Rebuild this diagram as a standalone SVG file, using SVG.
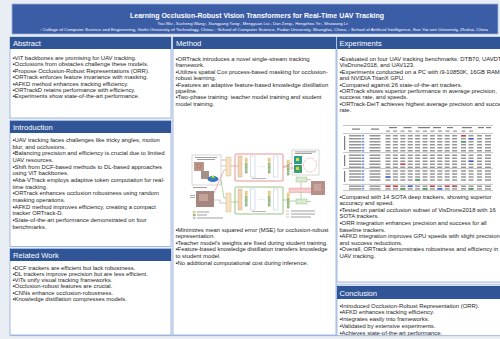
<svg xmlns="http://www.w3.org/2000/svg" width="500" height="339" viewBox="0 0 500 339">
<defs>
<style>
.t{font-family:'Liberation Sans','DejaVu Sans',sans-serif;font-size:5.9px;fill:#1e1e1e}
.h{font-family:'Liberation Sans','DejaVu Sans',sans-serif;font-size:7.6px;fill:#ffffff}
.w{font-family:'Liberation Sans','DejaVu Sans',sans-serif;fill:#ffffff}
.panel{fill:#ffffff;stroke:#8eaadb;stroke-width:0.8}
.bar{fill:#2f5597}
.tk{stroke:#888;stroke-width:0.2}
.ln{fill:none;stroke-width:0.5}
</style>
<g id="trow" fill="#7d7d7d">
<rect x="349" y="0" width="12" height="1.2"/>
<rect x="361.6" y="0" width="2.6" height="1.2" fill="#4a72c4"/>
<rect x="369.5" y="0" width="11" height="1.2"/>
<rect x="385.5" y="0" width="5" height="1.2"/>
<rect x="392.9" y="0" width="5" height="1.2"/>
<rect x="400.3" y="0" width="5" height="1.2"/>
<rect x="407.7" y="0" width="5" height="1.2"/>
<rect x="415.1" y="0" width="5" height="1.2"/>
<rect x="422.5" y="0" width="5" height="1.2"/>
<rect x="429.9" y="0" width="5" height="1.2"/>
<rect x="437.3" y="0" width="5" height="1.2"/>
<rect x="444.7" y="0" width="5" height="1.2"/>
<rect x="452.1" y="0" width="5" height="1.2"/>
<rect x="461" y="0" width="5" height="1.2"/>
<rect x="468.5" y="0" width="5" height="1.2"/>
<rect x="477" y="0" width="5" height="1.2"/>
<rect x="485" y="0" width="6" height="1.2"/>
</g>
<g id="tokcol">
<rect x="0" y="0" width="2.4" height="2.2" fill="#ffd966" class="tk"/>
<rect x="0" y="2.6" width="2.4" height="2.2" fill="#ffd966" class="tk"/>
<rect x="0" y="5.2" width="2.4" height="2.2" fill="#93c47d" class="tk"/>
<rect x="0" y="7.8" width="2.4" height="2.2" fill="#93c47d" class="tk"/>
<rect x="0" y="10.4" width="2.4" height="2.2" fill="#93c47d" class="tk"/>
<rect x="0" y="13" width="2.4" height="2.2" fill="#93c47d" class="tk"/>
</g>
<g id="branch">
<rect x="238" y="2" width="4" height="21" fill="#f1d3b3" stroke="#b08a66" stroke-width="0.3"/>
<use href="#tokcol" x="245" y="4"/>
<rect x="250.5" y="2" width="4.5" height="21" fill="#ffffff" stroke="#8fa3c9" stroke-width="0.35"/>
<circle cx="259" cy="12.5" r="0.35" fill="#555"/>
<circle cx="261.5" cy="12.5" r="0.35" fill="#555"/>
<circle cx="264" cy="12.5" r="0.35" fill="#555"/>
<use href="#tokcol" x="268" y="4"/>
<rect x="273.5" y="2" width="4.5" height="21" fill="#ffffff" stroke="#8fa3c9" stroke-width="0.35"/>
<rect x="252" y="24" width="14" height="0.7" fill="#999"/>
</g>
</defs>

<rect x="0" y="0" width="500" height="339" fill="#e9edf4"/>

<g id="header">
<rect x="12" y="4" width="486" height="30" fill="#3a5da5" stroke="#9db4df" stroke-width="0.8"/>
<text class="w" x="257" y="17.5" text-anchor="middle" font-size="7" font-weight="bold" textLength="254" lengthAdjust="spacingAndGlyphs">Learning Occlusion-Robust Vision Transformers for Real-Time UAV Tracking</text>
<text class="w" x="253" y="25.2" text-anchor="middle" font-size="3.6" textLength="191" lengthAdjust="spacingAndGlyphs">You Wu¹, Xucheng Wang², Xiangyang Yang¹, Mengyuan Liu¹, Dan Zeng³, Hengzhou Ye¹, Shuiwang Li¹</text>
<text class="w" x="264" y="30.6" text-anchor="middle" font-size="3.2" textLength="448" lengthAdjust="spacingAndGlyphs">¹ College of Computer Science and Engineering, Guilin University of Technology, China; ² School of Computer Science, Fudan University, Shanghai, China; ³ School of Artificial Intelligence, Sun Yat-sen University, Zhuhai, China</text>
</g>

<g id="abstract">
<rect class="panel" x="10" y="37" width="161" height="81"/>
<rect class="bar" x="10" y="37" width="161" height="12"/>
<text class="h" x="13" y="46.3">Abstract</text>
<text class="t">
<tspan x="12.5" y="60">▪ViT backbones are promising for UAV tracking.</tspan>
<tspan x="12.5" y="66.4">▪Occlusions from obstacles challenge these models.</tspan>
<tspan x="12.5" y="72.8">▪Propose Occlusion-Robust Representations (ORR).</tspan>
<tspan x="12.5" y="79.2">▪ORTrack enforces feature invariance with masking.</tspan>
<tspan x="12.5" y="85.6">▪AFKD method enhances tracking efficiency.</tspan>
<tspan x="12.5" y="92">▪ORTrackD retains performance with efficiency.</tspan>
<tspan x="12.5" y="98.4">▪Experiments show state-of-the-art performance.</tspan>
</text>
</g>

<g id="introduction">
<rect class="panel" x="10" y="120.5" width="161" height="126"/>
<rect class="bar" x="10" y="121" width="161" height="12"/>
<text class="h" x="13" y="130.3">Introduction</text>
<text class="t">
<tspan x="12.5" y="142">▪UAV tracking faces challenges like tricky angles, motion</tspan>
<tspan x="12.5" y="148.7">blur, and occlusions.</tspan>
<tspan x="12.5" y="155.3">▪Balancing precision and efficiency is crucial due to limited</tspan>
<tspan x="12.5" y="162">UAV resources.</tspan>
<tspan x="12.5" y="168.7">▪Shift from DCF-based methods to DL-based approaches</tspan>
<tspan x="12.5" y="175.3">using ViT backbones.</tspan>
<tspan x="12.5" y="182">▪Aba-VTrack employs adaptive token computation for real-</tspan>
<tspan x="12.5" y="188.7">time tracking.</tspan>
<tspan x="12.5" y="195.3">▪ORTrack enhances occlusion robustness using random</tspan>
<tspan x="12.5" y="202">masking operations.</tspan>
<tspan x="12.5" y="208.7">▪AFKD method improves efficiency, creating a compact</tspan>
<tspan x="12.5" y="215.3">tracker ORTrack-D.</tspan>
<tspan x="12.5" y="222">▪State-of-the-art performance demonstrated on four</tspan>
<tspan x="12.5" y="228.7">benchmarks.</tspan>
</text>
</g>

<g id="related-work">
<rect class="panel" x="10" y="248.5" width="161" height="86.5"/>
<rect class="bar" x="10" y="249" width="161" height="12"/>
<text class="h" x="13" y="258.3">Related Work</text>
<text class="t">
<tspan x="12.5" y="269.5">▪DCF trackers are efficient but lack robustness.</tspan>
<tspan x="12.5" y="275.8">▪DL trackers improve precision but are less efficient.</tspan>
<tspan x="12.5" y="282.1">▪ViTs unify visual tracking frameworks.</tspan>
<tspan x="12.5" y="288.4">▪Occlusion-robust features are crucial.</tspan>
<tspan x="12.5" y="294.7">▪CNNs enhance occlusion-robustness.</tspan>
<tspan x="12.5" y="301">▪Knowledge distillation compresses models.</tspan>
</text>
</g>

<g id="method">
<rect class="panel" x="173" y="37" width="163" height="298"/>
<rect class="bar" x="173" y="37" width="163" height="12"/>
<text class="h" x="176" y="46.3">Method</text>
<text class="t">
<tspan x="175.5" y="61">▪ORTrack introduces a novel single-stream tracking</tspan>
<tspan x="175.5" y="67.4">framework.</tspan>
<tspan x="175.5" y="73.8">▪Utilizes spatial Cox process-based masking for occlusion-</tspan>
<tspan x="175.5" y="80.2">robust learning.</tspan>
<tspan x="175.5" y="86.6">▪Features an adaptive feature-based knowledge distillation</tspan>
<tspan x="175.5" y="93">pipeline.</tspan>
<tspan x="175.5" y="99.4">▪Two-phase training: teacher model training and student</tspan>
<tspan x="175.5" y="105.8">model training.</tspan>
<tspan x="175.5" y="231.5">▪Minimizes mean squared error (MSE) for occlusion-robust</tspan>
<tspan x="175.5" y="238.1">representation.</tspan>
<tspan x="175.5" y="244.7">▪Teacher model's weights are fixed during student training.</tspan>
<tspan x="175.5" y="251.3">▪Feature-based knowledge distillation transfers knowledge</tspan>
<tspan x="175.5" y="257.9">to student model.</tspan>
<tspan x="175.5" y="264.5">▪No additional computational cost during inference.</tspan>
</text>
</g>

<g id="method-figure">
<rect x="192" y="155" width="29" height="30" fill="#ffffff" stroke="#9a9a9a" stroke-width="0.4"/>
<rect x="195" y="157" width="22" height="0.8" fill="#888"/>
<rect x="197" y="159" width="18" height="0.8" fill="#888"/>
<rect x="194" y="162" width="10" height="9" fill="#b89a8c"/>
<rect x="197" y="164" width="4" height="4" fill="none" stroke="#d03030" stroke-width="0.3"/>
<rect x="201" y="171" width="8" height="8" fill="#a58f86"/>
<ellipse cx="213" cy="179" rx="5.5" ry="3" fill="#3d6fc9"/>
<ellipse cx="213" cy="177.5" rx="3" ry="1.8" fill="#33a58a"/>
<ellipse cx="213" cy="176.5" rx="1.3" ry="1" fill="#f2d33b"/>
<rect x="193" y="187" width="14" height="0.8" fill="#888"/>
<rect x="190" y="195" width="5" height="0.7" fill="#888"/>
<rect x="190" y="197" width="5" height="0.7" fill="#888"/>
<rect x="196" y="191" width="18" height="16" fill="#a88680"/>
<rect x="199" y="194" width="9" height="7" fill="#c4a39b"/>
<rect x="226" y="157" width="5" height="19" fill="#f6e2c0" stroke="#b49a6c" stroke-width="0.3"/>
<rect x="226" y="193" width="5" height="19" fill="#f6e2c0" stroke="#b49a6c" stroke-width="0.3"/>
<rect x="235" y="154" width="48" height="27" fill="#ffffff" stroke="#e06666" stroke-width="0.7" rx="1"/>
<rect x="235" y="187" width="48" height="27" fill="#ffffff" stroke="#6aa84f" stroke-width="0.7" rx="1"/>
<use href="#branch" y="154"/>
<use href="#branch" y="187"/>
<use href="#tokcol" x="287" y="160"/>
<use href="#tokcol" x="287" y="193"/>
<rect x="292" y="150" width="27" height="25" fill="#ffffff" stroke="#9a9a9a" stroke-width="0.4"/>
<rect x="295" y="151.5" width="21" height="0.8" fill="#888"/>
<rect x="295" y="153.2" width="17" height="0.8" fill="#888"/>
<rect x="294" y="156" width="8" height="8" fill="#2a9d8f"/>
<rect x="294" y="165" width="8" height="8" fill="#3f9f6f"/>
<rect x="296" y="158" width="3" height="3" fill="#e8d84a"/>
<rect x="296" y="167" width="3" height="3" fill="#c7d84a"/>
<ellipse cx="310" cy="165" rx="6.5" ry="7" fill="none" stroke="#d03030" stroke-width="0.4" stroke-dasharray="0.8 0.6"/>
<rect x="296" y="177" width="11" height="5" fill="#d9ead3" stroke="#6aa84f" stroke-width="0.3"/>
<rect x="296" y="199" width="11" height="5" fill="#d9ead3" stroke="#6aa84f" stroke-width="0.3"/>
<rect x="289" y="188" width="25" height="4.5" fill="#f4cccc" stroke="#e06666" stroke-width="0.3"/>
<rect x="311" y="181" width="14" height="14" fill="#b58f88"/>
<rect x="314" y="184" width="7" height="7" fill="#c9a49c"/>
<rect x="193" y="211" width="2.4" height="2" fill="#ffd966" class="tk"/>
<rect x="193" y="214" width="2.4" height="2" fill="#93c47d" class="tk"/>
<rect x="193" y="217" width="2.4" height="2" fill="#d9d2e9" class="tk"/>
<rect x="197" y="211.6" width="12" height="0.8" fill="#888"/>
<rect x="197" y="214.6" width="10" height="0.8" fill="#888"/>
<rect x="197" y="217.6" width="26" height="0.8" fill="#888"/>
<rect x="291" y="210.6" width="24" height="0.8" fill="#888"/>
<rect x="291" y="213.6" width="24" height="0.8" fill="#888"/>
<rect x="291" y="216.6" width="20" height="0.8" fill="#888"/>
</g>

<g id="connectors">
<path class="ln" stroke="#999" d="M221 166 H224 V166 H226 M214 200 H220 V203 H226"/>
<path class="ln" stroke="#e06666" d="M221 160 H226 M231 166 H238 M214 193 L224 170 H226"/>
<path class="ln" stroke="#6aa84f" d="M231 202 H238 M221 180 L224 198 H226"/>
<path class="ln" stroke="#e06666" d="M283 167 H287 M289.5 168 H294 M283 167 L292 163 M307 179.5 H311 M301 182 V188"/>
<path class="ln" stroke="#6aa84f" d="M283 200 H287 M289.5 201 H296 M301 199 V192.5 M307 201.5 H311"/>
<path class="ln" stroke="#e06666" d="M286 211 H289"/>
<path class="ln" stroke="#6aa84f" d="M286 214 H289"/>
<path class="ln" stroke="#999" d="M286 217 H289"/>
</g>

<g id="experiments">
<rect class="panel" x="337" y="37" width="165" height="245"/>
<rect class="bar" x="337" y="37" width="165" height="12"/>
<text class="h" x="339.5" y="46.3">Experiments</text>
<text class="t">
<tspan x="339.5" y="61">▪Evaluated on four UAV tracking benchmarks: DTB70, UAVDT,</tspan>
<tspan x="339.5" y="67.4">VisDrone2018, and UAV123.</tspan>
<tspan x="339.5" y="73.8">▪Experiments conducted on a PC with i9-10850K, 16GB RAM,</tspan>
<tspan x="339.5" y="80.2">and NVIDIA TitanX GPU.</tspan>
<tspan x="339.5" y="86.6">▪Compared against 26 state-of-the-art trackers.</tspan>
<tspan x="339.5" y="93">▪ORTrack shows superior performance in average precision,</tspan>
<tspan x="339.5" y="99.4">success rate, and speeds.</tspan>
<tspan x="339.5" y="105.8">▪ORTrack-DeiT achieves highest average precision and success</tspan>
<tspan x="339.5" y="112.2">rate.</tspan>
<tspan x="339.5" y="198.6">▪Compared with 14 SOTA deep trackers, showing superior</tspan>
<tspan x="339.5" y="205.2">accuracy and speed.</tspan>
<tspan x="339.5" y="211.8">▪Tested on partial occlusion subset of VisDrone2018 with 16</tspan>
<tspan x="339.5" y="218.4">SOTA trackers.</tspan>
<tspan x="339.5" y="225">▪ORR integration enhances precision and success for all</tspan>
<tspan x="339.5" y="231.6">baseline trackers.</tspan>
<tspan x="339.5" y="238.2">▪AFKD integration improves GPU speeds with slight precision</tspan>
<tspan x="339.5" y="244.8">and success reductions.</tspan>
<tspan x="339.5" y="251.4">▪Overall, ORTrack demonstrates robustness and efficiency in</tspan>
<tspan x="339.5" y="258">UAV tracking.</tspan>
</text>
</g>

<g id="results-table">
<g stroke="#555" stroke-width="0.35">
<line x1="343" y1="125.5" x2="493" y2="125.5"/>
<line x1="343" y1="133.6" x2="493" y2="133.6"/>
<line x1="343" y1="152.6" x2="493" y2="152.6"/>
<line x1="343" y1="168.6" x2="493" y2="168.6"/>
<line x1="343" y1="184.4" x2="493" y2="184.4"/>
<line x1="343" y1="190.6" x2="493" y2="190.6"/>
</g>
<g fill="#7d7d7d">
<rect x="352" y="128.5" width="8" height="1.2"/>
<rect x="371" y="128.5" width="8" height="1.2"/>
<rect x="389" y="127" width="8" height="1.2"/>
<rect x="403.5" y="127" width="8" height="1.2"/>
<rect x="418" y="127" width="12" height="1.2"/>
<rect x="433" y="127" width="8" height="1.2"/>
<rect x="447" y="127" width="6" height="1.2"/>
<rect x="462" y="127" width="10" height="1.2"/>
<rect x="478" y="127" width="6" height="1.2"/>
<rect x="486" y="127" width="5" height="1.2"/>
<rect x="386" y="130.6" width="4" height="1"/><rect x="393" y="130.6" width="4" height="1"/>
<rect x="400.5" y="130.6" width="4" height="1"/><rect x="408" y="130.6" width="4" height="1"/>
<rect x="415.5" y="130.6" width="4" height="1"/><rect x="423" y="130.6" width="4" height="1"/>
<rect x="430.5" y="130.6" width="4" height="1"/><rect x="438" y="130.6" width="4" height="1"/>
<rect x="445.5" y="130.6" width="4" height="1"/><rect x="453" y="130.6" width="4" height="1"/>
<rect x="461.5" y="130.6" width="4" height="1"/><rect x="469" y="130.6" width="4" height="1"/>
<rect x="344" y="136" width="1.2" height="14"/>
<rect x="344" y="155" width="1.2" height="11"/>
<rect x="344" y="171" width="1.2" height="11"/>
</g>
<use href="#trow" y="135.2"/>
<use href="#trow" y="138.2"/>
<use href="#trow" y="141.2"/>
<use href="#trow" y="144.2"/>
<use href="#trow" y="147.2"/>
<use href="#trow" y="150.2"/>
<use href="#trow" y="154.6"/>
<use href="#trow" y="157.6"/>
<use href="#trow" y="160.6"/>
<use href="#trow" y="163.6"/>
<use href="#trow" y="166.6"/>
<use href="#trow" y="170.4"/>
<use href="#trow" y="173.4"/>
<use href="#trow" y="176.4"/>
<use href="#trow" y="179.4"/>
<use href="#trow" y="182.4" opacity="0"/>
<use href="#trow" y="185.6"/>
<use href="#trow" y="188.3"/>
<g>
<rect x="461" y="135.2" width="5" height="1.2" fill="#e03030"/>
<rect x="468.5" y="138.2" width="5" height="1.2" fill="#3050e0"/>
<rect x="461" y="141.2" width="5" height="1.2" fill="#2a9d3a"/>
<rect x="400.3" y="163.6" width="5" height="1.2" fill="#e03030"/>
<rect x="468.5" y="160.6" width="5" height="1.2" fill="#3050e0"/>
<rect x="385.5" y="176.4" width="5" height="1.2" fill="#3050e0"/>
<rect x="415.1" y="179.4" width="5" height="1.2" fill="#2a9d3a"/>
<rect x="385.5" y="185.6" width="5" height="1.2" fill="#e03030"/>
<rect x="392.9" y="185.6" width="5" height="1.2" fill="#e03030"/>
<rect x="407.7" y="185.6" width="5" height="1.2" fill="#3050e0"/>
<rect x="429.9" y="185.6" width="5" height="1.2" fill="#e03030"/>
<rect x="444.7" y="185.6" width="5" height="1.2" fill="#e03030"/>
<rect x="452.1" y="185.6" width="5" height="1.2" fill="#e03030"/>
<rect x="400.3" y="188.3" width="5" height="1.2" fill="#2a9d3a"/>
<rect x="422.5" y="188.3" width="5" height="1.2" fill="#2a9d3a"/>
<rect x="437.3" y="188.3" width="5" height="1.2" fill="#3050e0"/>
<rect x="468.5" y="188.3" width="5" height="1.2" fill="#2a9d3a"/>
</g>
</g>

<g id="conclusion">
<rect class="panel" x="337" y="285" width="165" height="56"/>
<rect class="bar" x="337" y="286" width="165" height="13"/>
<text class="h" x="339.5" y="295.6">Conclusion</text>
<text class="t">
<tspan x="339.5" y="307.7">▪Introduced Occlusion-Robust Representation (ORR).</tspan>
<tspan x="339.5" y="314.4">▪AFKD enhances tracking efficiency.</tspan>
<tspan x="339.5" y="321.1">▪Integrates easily into frameworks.</tspan>
<tspan x="339.5" y="327.8">▪Validated by extensive experiments.</tspan>
<tspan x="339.5" y="334.5">▪Achieves state-of-the-art performance.</tspan>
</text>
</g>
<rect x="0" y="336" width="500" height="3" fill="#e9edf4"/>
<line x1="10" y1="335.6" x2="500" y2="335.6" stroke="#8eaadb" stroke-width="0.8"/>
</svg>
